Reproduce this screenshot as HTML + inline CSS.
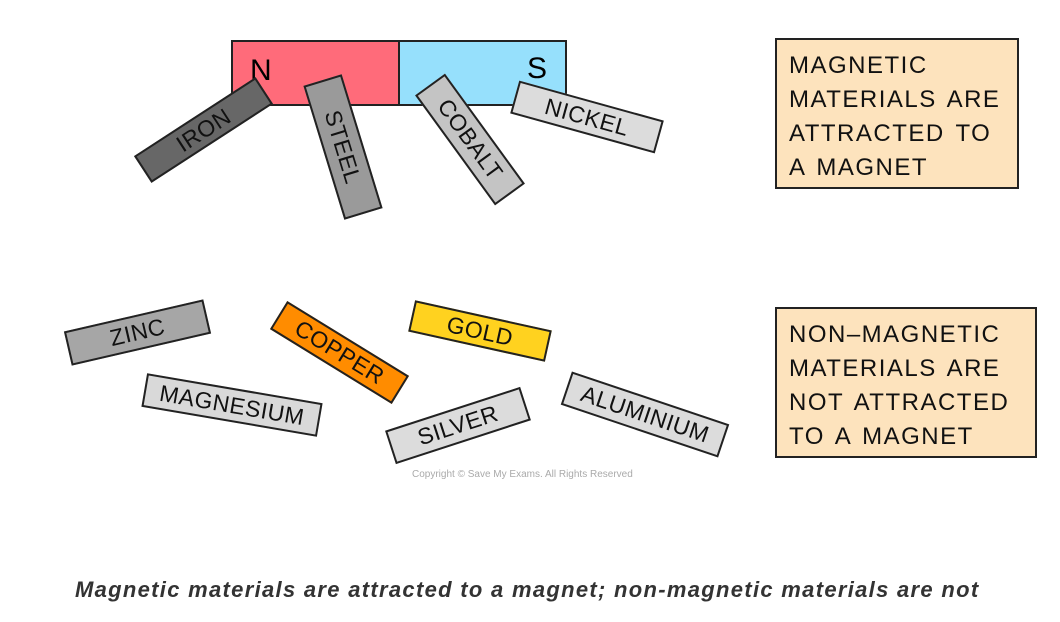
<!DOCTYPE html>
<html><head><meta charset="utf-8"><style>
body{margin:0;width:1060px;height:622px;background:#fff;position:relative;overflow:hidden;font-family:"Liberation Sans",sans-serif;}
.a{position:absolute;}
.bar{position:absolute;border:2px solid #222;box-sizing:border-box;display:flex;align-items:center;justify-content:center;font-size:23px;color:#111;letter-spacing:0.5px;transform-origin:center center;}
.box{position:absolute;background:#fde3bd;border:2px solid #222;box-sizing:border-box;font-size:24px;line-height:34px;letter-spacing:1.5px;color:#111;padding:9px 0 0 12px;word-spacing:3px;}
</style></head><body>
<div class="a" style="left:231px;top:40px;width:169px;height:66px;background:#ff6b7a;border:2px solid #222;box-sizing:border-box;"></div>
<div class="a" style="left:398px;top:40px;width:169px;height:66px;background:#96e0fc;border:2px solid #222;box-sizing:border-box;"></div>
<div class="a" style="left:250px;top:54px;font-size:30px;">N</div>
<div class="a" style="left:527px;top:52px;font-size:30px;">S</div>

<div class="bar" style="left:131px;top:114px;width:145px;height:32px;background:#676767;transform:rotate(-33deg);">IRON</div>
<div class="bar" style="left:273px;top:127px;width:140px;height:40px;background:#9a9a9a;transform:rotate(73deg);">STEEL</div>
<div class="bar" style="left:402px;top:121px;width:136px;height:37px;background:#c4c4c4;transform:rotate(54deg);">COBALT</div>
<div class="bar" style="left:512px;top:100px;width:150px;height:34px;background:#dcdcdc;transform:rotate(15.5deg);">NICKEL</div>

<div class="bar" style="left:66px;top:315px;width:143px;height:35px;background:#a6a6a6;transform:rotate(-13deg);">ZINC</div>
<div class="bar" style="left:268px;top:336px;width:143px;height:33px;background:#ff8c00;transform:rotate(31.6deg);">COPPER</div>
<div class="bar" style="left:410px;top:315px;width:140px;height:32px;background:#ffd21f;transform:rotate(12.5deg);">GOLD</div>
<div class="bar" style="left:143px;top:388px;width:178px;height:34px;background:#d9d9d9;transform:rotate(9.7deg);">MAGNESIUM</div>
<div class="bar" style="left:387px;top:408px;width:142px;height:35px;background:#dcdcdc;transform:rotate(-18deg);">SILVER</div>
<div class="bar" style="left:562px;top:397px;width:166px;height:35px;background:#dcdcdc;transform:rotate(18.6deg);">ALUMINIUM</div>

<div class="a" style="left:412px;top:469px;font-size:10px;color:#aaa;">Copyright © Save My Exams. All Rights Reserved</div>

<div class="box" style="left:775px;top:38px;width:244px;height:151px;">MAGNETIC<br>MATERIALS ARE<br>ATTRACTED TO<br>A MAGNET</div>
<div class="box" style="left:775px;top:307px;width:262px;height:151px;">NON–MAGNETIC<br>MATERIALS ARE<br>NOT ATTRACTED<br>TO A MAGNET</div>

<div class="a" style="left:75px;top:577px;font-size:22px;letter-spacing:1.3px;font-style:italic;font-weight:bold;color:#333;white-space:nowrap;">Magnetic materials are attracted to a magnet; non-magnetic materials are not</div>
</body></html>
